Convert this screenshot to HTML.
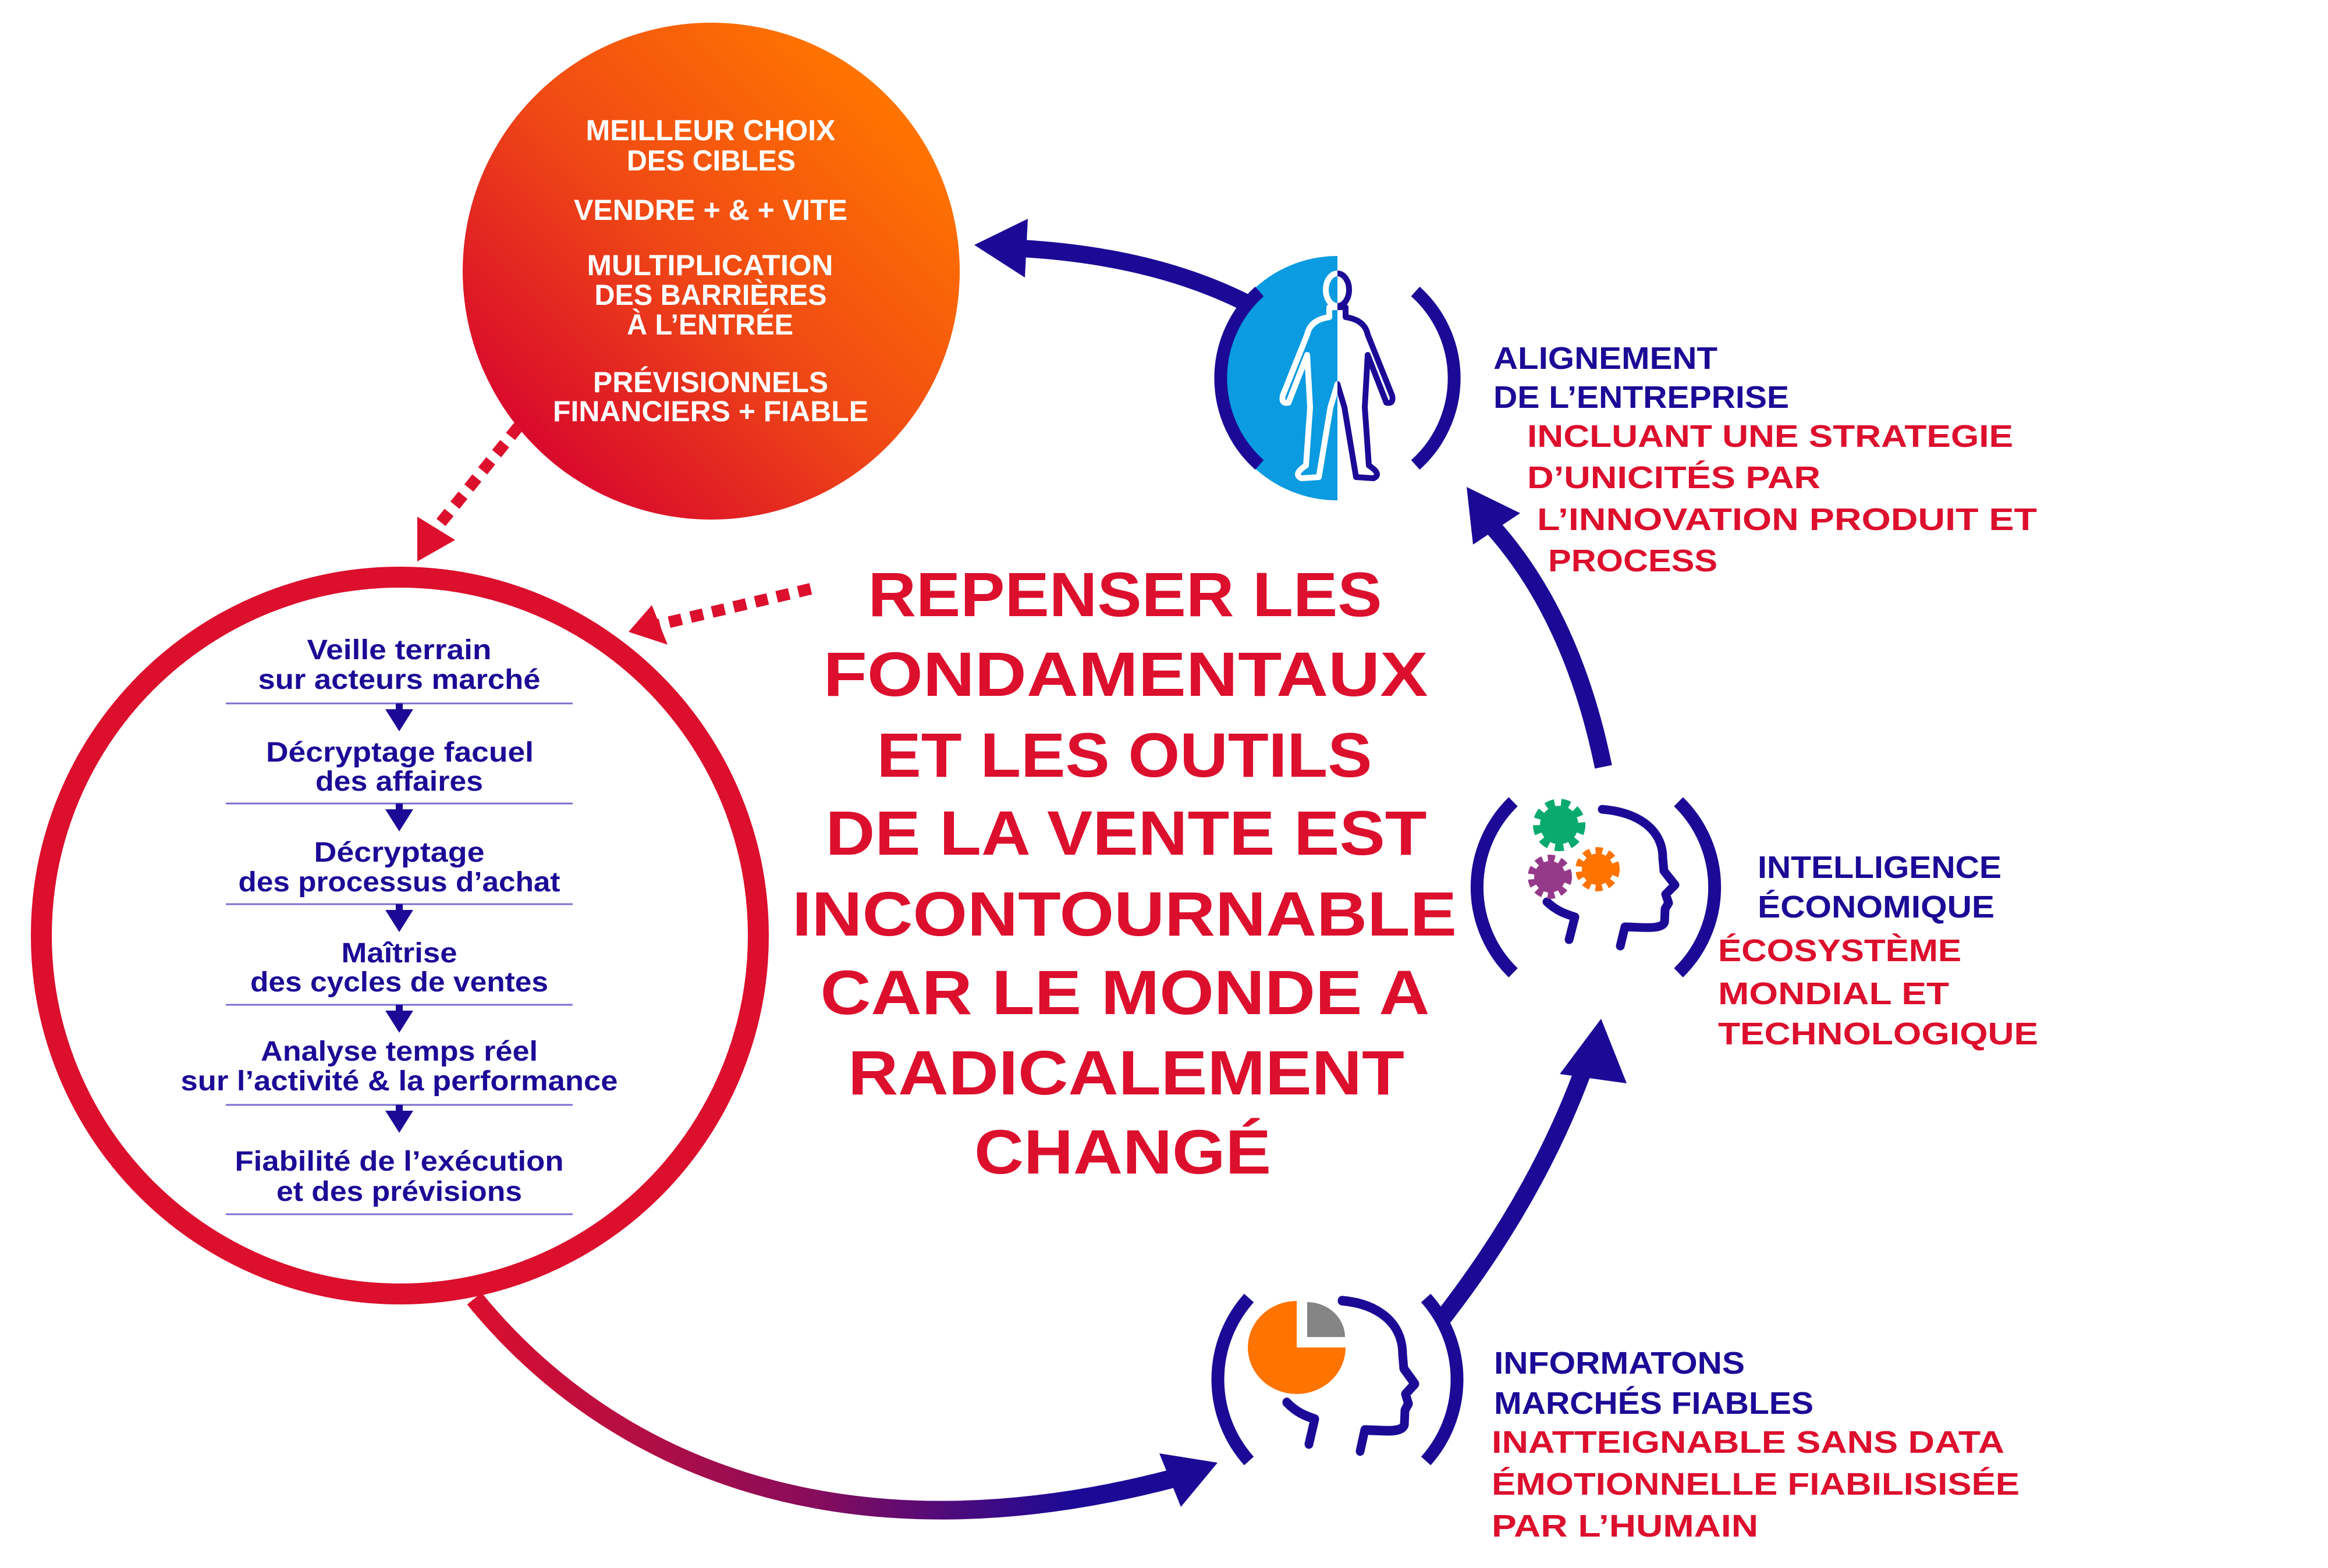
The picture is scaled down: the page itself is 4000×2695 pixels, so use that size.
<!DOCTYPE html>
<html><head><meta charset="utf-8"><style>
html,body{margin:0;padding:0;background:#fff;}
svg{display:block;}
text{font-family:"Liberation Sans",sans-serif;font-weight:bold;}
</style></head><body>
<svg width="4000" height="2695" viewBox="0 0 4000 2695" xmlns="http://www.w3.org/2000/svg">
<defs>
<linearGradient id="og" x1="0.85" y1="0.15" x2="0.15" y2="0.85">
<stop offset="0" stop-color="#ff7400"/><stop offset="0.5" stop-color="#f04a14"/><stop offset="1" stop-color="#d90a2c"/>
</linearGradient>
<linearGradient id="ag" gradientUnits="userSpaceOnUse" x1="800" y1="0" x2="2100" y2="0">
<stop offset="0" stop-color="#dc0f2d"/><stop offset="0.45" stop-color="#8a0c5a"/><stop offset="0.8" stop-color="#1c0a96"/><stop offset="1" stop-color="#1c0a96"/>
</linearGradient>
<clipPath id="cl"><rect x="0" y="0" width="2298" height="1000"/></clipPath>
<clipPath id="cr"><rect x="2298" y="0" width="400" height="1000"/></clipPath>
<g id="head" fill="none" stroke="#1c0a96" stroke-width="15" stroke-linecap="round" stroke-linejoin="round">
<path d="M8,-115 C70,-110 112,-80 112,-31 L114,-9 L133,15 L117,31 L122,46 L116,56 L115,79 C110,92 80,88 47,87 L39,120"/>
<path d="M-87,44 C-70,60 -55,65 -39,70 L-49,109"/>
</g>
</defs>

<!-- top orange circle -->
<circle cx="1222" cy="466" r="427" fill="url(#og)"/>
<g fill="#fff" text-anchor="middle" font-size="50">
<text x="1221" y="241" textLength="429" lengthAdjust="spacingAndGlyphs">MEILLEUR CHOIX</text>
<text x="1222" y="293" textLength="290" lengthAdjust="spacingAndGlyphs">DES CIBLES</text>
<text x="1221" y="378" textLength="470" lengthAdjust="spacingAndGlyphs">VENDRE + &amp; + VITE</text>
<text x="1220" y="473" textLength="423" lengthAdjust="spacingAndGlyphs">MULTIPLICATION</text>
<text x="1221" y="524" textLength="399" lengthAdjust="spacingAndGlyphs">DES BARRIÈRES</text>
<text x="1220" y="575" textLength="286" lengthAdjust="spacingAndGlyphs">À L’ENTRÉE</text>
<text x="1221" y="674" textLength="404" lengthAdjust="spacingAndGlyphs">PRÉVISIONNELS</text>
<text x="1221" y="724" textLength="542" lengthAdjust="spacingAndGlyphs">FINANCIERS + FIABLE</text>
</g>

<!-- dashed red arrows -->
<path d="M891,733 L752,905" stroke="#dc0f2d" stroke-width="20" stroke-dasharray="22 16" fill="none"/>
<polygon points="717,888 782,928 717,965" fill="#dc0f2d"/>
<path d="M1393,1012 L1130,1074" stroke="#dc0f2d" stroke-width="20" stroke-dasharray="22 16" fill="none"/>
<polygon points="1080,1086 1120,1040 1147,1108" fill="#dc0f2d"/>

<!-- left red circle -->
<circle cx="687" cy="1608" r="616" fill="none" stroke="#dc0f2d" stroke-width="36"/>
<g fill="#1c0a96" text-anchor="middle" font-size="48">
<text x="686" y="1133" textLength="317" lengthAdjust="spacingAndGlyphs">Veille terrain</text>
<text x="686" y="1184" textLength="485" lengthAdjust="spacingAndGlyphs">sur acteurs marché</text>
<text x="687" y="1309" textLength="460" lengthAdjust="spacingAndGlyphs">Décryptage facuel</text>
<text x="686" y="1359" textLength="288" lengthAdjust="spacingAndGlyphs">des affaires</text>
<text x="686" y="1481" textLength="293" lengthAdjust="spacingAndGlyphs">Décryptage</text>
<text x="686" y="1532" textLength="553" lengthAdjust="spacingAndGlyphs">des processus d’achat</text>
<text x="686" y="1654" textLength="199" lengthAdjust="spacingAndGlyphs">Maîtrise</text>
<text x="686" y="1704" textLength="512" lengthAdjust="spacingAndGlyphs">des cycles de ventes</text>
<text x="686" y="1823" textLength="476" lengthAdjust="spacingAndGlyphs">Analyse temps réel</text>
<text x="686" y="1874" textLength="751" lengthAdjust="spacingAndGlyphs">sur l’activité &amp; la performance</text>
<text x="686" y="2012" textLength="565" lengthAdjust="spacingAndGlyphs">Fiabilité de l’exécution</text>
<text x="686" y="2064" textLength="422" lengthAdjust="spacingAndGlyphs">et des prévisions</text>
</g>
<g stroke="#7a6fd0" stroke-width="3">
<line x1="388" y1="1209" x2="984" y2="1209"/>
<line x1="388" y1="1381" x2="984" y2="1381"/>
<line x1="388" y1="1554" x2="984" y2="1554"/>
<line x1="388" y1="1727" x2="984" y2="1727"/>
<line x1="388" y1="1899" x2="984" y2="1899"/>
<line x1="388" y1="2087" x2="984" y2="2087"/>
</g>
<g fill="#1c0a96">
<path d="M680,1209 h12 v10 h18 l-24,38 l-24,-38 h18z"/>
<path d="M680,1381 h12 v10 h18 l-24,38 l-24,-38 h18z"/>
<path d="M680,1554 h12 v10 h18 l-24,38 l-24,-38 h18z"/>
<path d="M680,1727 h12 v10 h18 l-24,38 l-24,-38 h18z"/>
<path d="M680,1899 h12 v10 h18 l-24,38 l-24,-38 h18z"/>
</g>

<!-- central title -->
<g fill="#dc0f2d" text-anchor="middle" font-size="108">
<text x="1933" y="1059" textLength="883" lengthAdjust="spacingAndGlyphs">REPENSER LES</text>
<text x="1934" y="1196" textLength="1039" lengthAdjust="spacingAndGlyphs">FONDAMENTAUX</text>
<text x="1932" y="1335" textLength="851" lengthAdjust="spacingAndGlyphs">ET LES OUTILS</text>
<text x="1935" y="1469" textLength="1033" lengthAdjust="spacingAndGlyphs">DE LA VENTE EST</text>
<text x="1932" y="1608" textLength="1142" lengthAdjust="spacingAndGlyphs">INCONTOURNABLE</text>
<text x="1933" y="1743" textLength="1047" lengthAdjust="spacingAndGlyphs">CAR LE MONDE A</text>
<text x="1935" y="1881" textLength="956" lengthAdjust="spacingAndGlyphs">RADICALEMENT</text>
<text x="1929" y="2017" textLength="510" lengthAdjust="spacingAndGlyphs">CHANGÉ</text>
</g>

<!-- blue arrows -->
<g fill="none" stroke="#1c0a96" stroke-width="30">
<path d="M2140,520 Q1980,440 1755,427"/>
<path d="M2755,1318 Q2700,1050 2555,895"/>
<path d="M2474,2272 Q2640,2060 2722,1835"/>
</g>
<g fill="#1c0a96">
<polygon points="1674,421 1766,376 1761,477"/>
<polygon points="2520,837 2531,936 2612,882"/>
<polygon points="2751,1751 2680,1846 2795,1862"/>
</g>
<!-- gradient arrow -->
<path d="M815,2232 C1050,2520 1450,2690 2020,2540" fill="none" stroke="url(#ag)" stroke-width="32"/>
<polygon points="2092,2514 1992,2498 2029,2590" fill="#1c0a96"/>

<!-- human icon -->
<path d="M2298,440 A210,210 0 0,0 2298,860 Z" fill="#0a9be0"/>
<g fill="none" stroke="#1c0a96" stroke-width="22">
<path d="M2164,501 A200,200 0 0,0 2164,799"/>
<path d="M2432,501 A200,200 0 0,1 2432,799"/>
</g>
<g fill="none" stroke-width="10" stroke-linejoin="round">
<g clip-path="url(#cl)" stroke="#fff">
<ellipse cx="2298" cy="498" rx="20" ry="28"/>
<path d="M2298,660 L2310,700 L2330,820 L2360,822 Q2375,815 2352,800 L2345,700 L2350,610 L2382,692 Q2395,695 2392,680 L2350,575 Q2345,550 2312,545 L2312,528 L2284,528 L2284,545 Q2251,550 2246,575 L2204,680 Q2201,695 2214,692 L2246,610 L2251,700 L2244,800 Q2221,815 2236,822 L2266,820 L2286,700 Z"/>
</g>
<g clip-path="url(#cr)" stroke="#1c0a96">
<ellipse cx="2298" cy="498" rx="20" ry="28"/>
<path d="M2298,660 L2310,700 L2330,820 L2360,822 Q2375,815 2352,800 L2345,700 L2350,610 L2382,692 Q2395,695 2392,680 L2350,575 Q2345,550 2312,545 L2312,528 L2284,528 L2284,545 Q2251,550 2246,575 L2204,680 Q2201,695 2214,692 L2246,610 L2251,700 L2244,800 Q2221,815 2236,822 L2266,820 L2286,700 Z"/>
</g>
</g>

<!-- intelligence icon -->
<g fill="none" stroke="#1c0a96" stroke-width="22">
<path d="M2600,1378 A205,205 0 0,0 2600,1672"/>
<path d="M2884,1378 A205,205 0 0,1 2884,1672"/>
</g>
<use href="#head" transform="translate(2745,1506)"/>
<g>
<circle cx="2679" cy="1418" r="33" fill="#0aaa6e"/>
<circle cx="2679" cy="1418" r="38" fill="none" stroke="#0aaa6e" stroke-width="14" stroke-dasharray="15 11"/>
<circle cx="2663" cy="1507" r="27" fill="#953a8a"/>
<circle cx="2663" cy="1507" r="32" fill="none" stroke="#953a8a" stroke-width="12" stroke-dasharray="12 9"/>
<circle cx="2745" cy="1494" r="27" fill="#ff7300"/>
<circle cx="2745" cy="1494" r="32" fill="none" stroke="#ff7300" stroke-width="12" stroke-dasharray="12 9"/>
</g>

<!-- info icon -->
<g fill="none" stroke="#1c0a96" stroke-width="22">
<path d="M2146,2231 A210,210 0 0,0 2146,2511"/>
<path d="M2450,2231 A210,210 0 0,1 2450,2511"/>
</g>
<use href="#head" transform="translate(2298,2362) scale(1,1.1)"/>
<path d="M2228,2316 L2228,2236 A84,80 0 1,0 2312,2316 Z" fill="#ff7300"/>
<path d="M2246,2298 L2246,2238 A65,60 0 0,1 2311,2298 Z" fill="#858585"/>

<!-- side labels -->
<g font-size="54">
<text x="2566" y="634" fill="#1c0a96" textLength="385" lengthAdjust="spacingAndGlyphs">ALIGNEMENT</text>
<text x="2566" y="701" fill="#1c0a96" textLength="508" lengthAdjust="spacingAndGlyphs">DE L’ENTREPRISE</text>
<text x="2624" y="768" fill="#dc0f2d" textLength="835" lengthAdjust="spacingAndGlyphs">INCLUANT UNE STRATEGIE</text>
<text x="2624" y="839" fill="#dc0f2d" textLength="504" lengthAdjust="spacingAndGlyphs">D’UNICITÉS PAR</text>
<text x="2641" y="911" fill="#dc0f2d" textLength="859" lengthAdjust="spacingAndGlyphs">L’INNOVATION PRODUIT ET</text>
<text x="2660" y="982" fill="#dc0f2d" textLength="291" lengthAdjust="spacingAndGlyphs">PROCESS</text>

<text x="3020" y="1509" fill="#1c0a96" textLength="419" lengthAdjust="spacingAndGlyphs">INTELLIGENCE</text>
<text x="3020" y="1577" fill="#1c0a96" textLength="407" lengthAdjust="spacingAndGlyphs">ÉCONOMIQUE</text>
<text x="2952" y="1652" fill="#dc0f2d" textLength="418" lengthAdjust="spacingAndGlyphs">ÉCOSYSTÈME</text>
<text x="2952" y="1726" fill="#dc0f2d" textLength="397" lengthAdjust="spacingAndGlyphs">MONDIAL ET</text>
<text x="2952" y="1795" fill="#dc0f2d" textLength="550" lengthAdjust="spacingAndGlyphs">TECHNOLOGIQUE</text>

<text x="2567" y="2361" fill="#1c0a96" textLength="431" lengthAdjust="spacingAndGlyphs">INFORMATONS</text>
<text x="2567" y="2430" fill="#1c0a96" textLength="549" lengthAdjust="spacingAndGlyphs">MARCHÉS FIABLES</text>
<text x="2563" y="2497" fill="#dc0f2d" textLength="881" lengthAdjust="spacingAndGlyphs">INATTEIGNABLE SANS DATA</text>
<text x="2563" y="2569" fill="#dc0f2d" textLength="907" lengthAdjust="spacingAndGlyphs">ÉMOTIONNELLE FIABILISISÉE</text>
<text x="2563" y="2641" fill="#dc0f2d" textLength="458" lengthAdjust="spacingAndGlyphs">PAR L’HUMAIN</text>
</g>
</svg>
</body></html>
